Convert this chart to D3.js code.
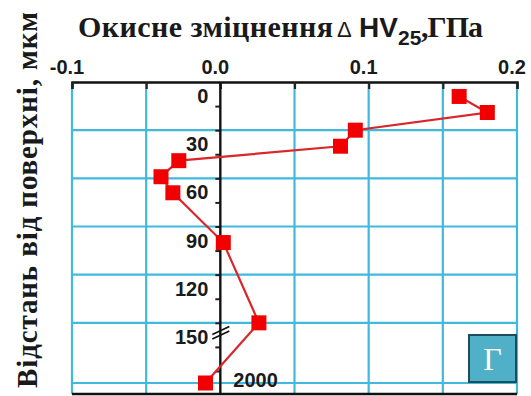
<!DOCTYPE html>
<html>
<head>
<meta charset="utf-8">
<script src="https://cdn.jsdelivr.net/npm/d3@7/dist/d3.min.js"></script>
<style>
  html, body { margin: 0; padding: 0; background: #fff; }
  svg { display: block; }
</style>
</head>
<body>
<svg id="chart" width="531" height="396"></svg>
<script>
// Oxide hardening ΔHV25 (GPa) versus distance from surface (µm)
const depth   = [9, 19, 30, 40, 49, 59, 69, 100, 150, 2000];
const deltaHV = [0.161, 0.180, 0.091, 0.081, -0.028, -0.040, -0.032, 0.002, 0.026, -0.010];

const xTicks      = [-0.1, 0.0, 0.1, 0.2];
const xGrid       = [-0.1, -0.05, 0.0, 0.05, 0.1, 0.15, 0.2];
const yLabels     = [0, 30, 60, 90, 120, 150];
const yGrid       = [30, 60, 90, 120, 150, 2000];
const yMinorTicks = [15, 30, 45, 60, 75, 90, 105, 120, 135, 150, 165, 180];
const breakValue  = 2000;

const svg = d3.select("#chart");

const x = d3.scaleLinear().domain([-0.1, 0.2]).range([72, 517]);
// broken depth axis: linear section up to 180 µm, then a short section holding 2000 µm
const y = d3.scaleLinear().domain([0, 180, 2000, 2010]).range([82, 371, 383, 394]);

const gridColor = "#40b9dc";
const sans = "'Liberation Sans', Arial, sans-serif";
const serif = "'Liberation Serif', 'Times New Roman', serif";

// grid
const g = svg.append("g");
g.selectAll("line.vg").data(xGrid.filter(v => v !== 0)).join("line")
  .attr("x1", d => x(d)).attr("x2", d => x(d))
  .attr("y1", y(0)).attr("y2", y(2010))
  .attr("stroke", gridColor).attr("stroke-width", 2.2);
g.selectAll("line.hg").data(yGrid).join("line")
  .attr("x1", x(-0.1)).attr("x2", x(0.2))
  .attr("y1", d => y(d)).attr("y2", d => y(d))
  .attr("stroke", gridColor).attr("stroke-width", 2.2);

// top axis with ticks pointing inward
const topAxis = d3.axisTop(x).tickValues(xGrid).tickSize(-7).tickFormat("");
const ta = svg.append("g").attr("transform", `translate(0,${y(0)})`).call(topAxis);
ta.select(".domain").attr("stroke", "#111").attr("stroke-width", 2.4);
ta.selectAll(".tick line").attr("stroke", "#222").attr("stroke-width", 2.2);

svg.append("g").selectAll("text").data(xTicks).join("text")
  .attr("x", d => x(d) - 5).attr("y", 74)
  .attr("text-anchor", "middle")
  .attr("font-family", sans).attr("font-weight", "bold").attr("font-size", 20)
  .attr("fill", "#1a1a1a")
  .text(d => d3.format(".1f")(d).replace("−", "-"));

// bottom axis line
svg.append("line")
  .attr("x1", x(-0.1)).attr("x2", x(0.2))
  .attr("y1", y(2010)).attr("y2", y(2010))
  .attr("stroke", "#111").attr("stroke-width", 2.4);

// vertical axis at ΔHV = 0
const leftAxis = d3.axisLeft(y).tickValues(yMinorTicks).tickSize(5).tickFormat("");
const la = svg.append("g").attr("transform", `translate(${x(0)},0)`).call(leftAxis);
la.select(".domain").remove();
la.selectAll(".tick line").attr("stroke", "#222").attr("stroke-width", 2);
svg.append("line")
  .attr("x1", x(0)).attr("x2", x(0))
  .attr("y1", y(0)).attr("y2", y(2010))
  .attr("stroke", "#111").attr("stroke-width", 2.4);

svg.append("g").selectAll("text").data(yLabels).join("text")
  .attr("x", x(0) - 12).attr("y", d => y(d) + 21)
  .attr("text-anchor", "end")
  .attr("font-family", sans).attr("font-weight", "bold").attr("font-size", 20)
  .attr("fill", "#1a1a1a")
  .text(d => d);

svg.append("text")
  .attr("x", x(0) + 13).attr("y", y(breakValue) + 4)
  .attr("font-family", sans).attr("font-weight", "bold").attr("font-size", 20)
  .attr("fill", "#1a1a1a")
  .text(breakValue);

// axis break mark
const by = y(156);
[-2, 2.5].forEach(o => {
  svg.append("line")
    .attr("x1", x(0) - 8).attr("y1", by + o + 4)
    .attr("x2", x(0) + 9).attr("y2", by + o - 4)
    .attr("stroke", "#111").attr("stroke-width", 1.8);
});

// data line and markers
const pts = depth.map((d, i) => [x(deltaHV[i]), y(d)]);
svg.append("path")
  .attr("d", d3.line()(pts))
  .attr("fill", "none").attr("stroke", "#d8262a").attr("stroke-width", 2.2);
svg.append("g").selectAll("rect").data(pts).join("rect")
  .attr("x", d => d[0] - 7.5).attr("y", d => d[1] - 7.5)
  .attr("width", 15).attr("height", 15)
  .attr("fill", "#f20000");

// title
const title = svg.append("text")
  .attr("y", 37)
  .attr("font-weight", "bold").attr("fill", "#1a1a1a");
title.append("tspan").attr("x", 78)
  .attr("font-family", serif).attr("font-size", 30)
  .attr("textLength", 255).attr("lengthAdjust", "spacing")
  .text("Окисне зміцнення");
title.append("tspan").attr("x", 337)
  .attr("font-family", sans).attr("font-weight", "normal").attr("font-size", 22)
  .text("Δ");
title.append("tspan").attr("x", 359)
  .attr("font-family", sans).attr("font-size", 28)
  .text("HV");
title.append("tspan").attr("x", 398).attr("dy", 8)
  .attr("font-family", sans).attr("font-size", 21)
  .text("25");
title.append("tspan").attr("x", 421).attr("dy", -8)
  .attr("font-family", serif).attr("font-size", 30)
  .attr("textLength", 62).attr("lengthAdjust", "spacing")
  .text(",ГПа");

// vertical axis title
svg.append("text")
  .attr("transform", "translate(37,388) rotate(-90)")
  .attr("font-family", serif).attr("font-weight", "bold").attr("font-size", 29)
  .attr("textLength", 376).attr("lengthAdjust", "spacing")
  .attr("fill", "#1a1a1a")
  .text("Відстань від поверхні, мкм");

// panel letter
svg.append("rect")
  .attr("x", 469).attr("y", 335).attr("width", 47).attr("height", 47)
  .attr("fill", "#4fb0c8").attr("stroke", "#1d4d5c").attr("stroke-width", 2);
svg.append("text")
  .attr("x", 492.5).attr("y", 370)
  .attr("text-anchor", "middle")
  .attr("font-family", serif).attr("font-size", 32).attr("fill", "#fff")
  .text("Г");
</script>
</body>
</html>
